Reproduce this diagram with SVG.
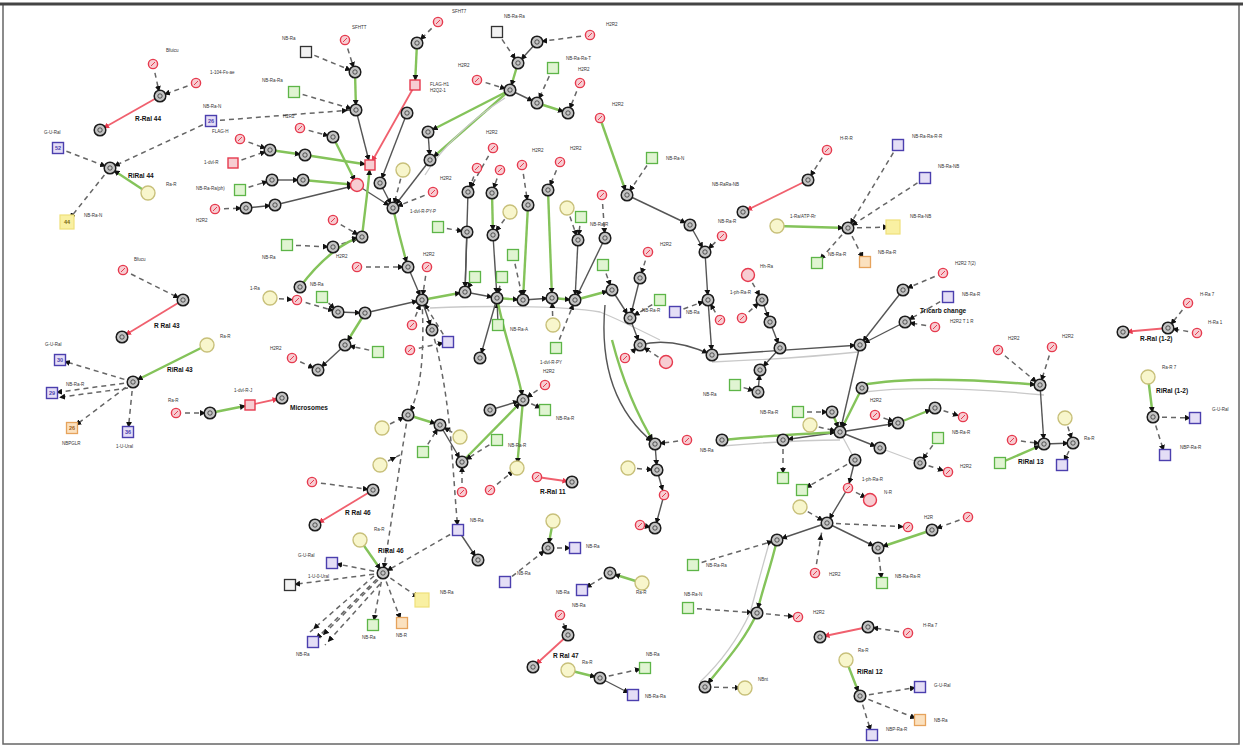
<svg xmlns="http://www.w3.org/2000/svg" xmlns:xlink="http://www.w3.org/1999/xlink" width="1243" height="746" viewBox="0 0 1243 746">
<style>
.gn{fill:#c4c4c4;stroke:#1c1c1c;stroke-width:1.5}
.gi{fill:none;stroke:#333;stroke-width:0.8}
.rn{fill:#f7cdd2;stroke:#e63a4e;stroke-width:1.4}
.qn{fill:#e0f4d2;stroke:#5db548;stroke-width:1.3}
.bn{fill:#e4def6;stroke:#4b3fae;stroke-width:1.4}
.on{fill:#fbe1bf;stroke:#e6a35c;stroke-width:1.3}
.yn{fill:#f8f6cc;stroke:#c8c07a;stroke-width:1.4}
.ys{fill:#f9f0a2;stroke:#efe07a;stroke-width:1.2}
.kn{fill:#f2f2f2;stroke:#333;stroke-width:1.3}
.t{font-family:"Liberation Sans",Arial,sans-serif;font-size:4.5px;fill:#333}
.tb{font-family:"Liberation Sans",Arial,sans-serif;font-size:6.5px;font-weight:bold;fill:#111}
.tq{font-family:"Liberation Sans",Arial,sans-serif;font-size:5.5px;font-weight:bold;text-anchor:middle}
.e{stroke:#555;stroke-width:1.4;fill:none;marker-end:url(#a)}
.eg{stroke:#84c35a;stroke-width:2.4;fill:none;marker-end:url(#a)}
.el{stroke:#c9c9c9;stroke-width:1.3;fill:none}
.er{stroke:#f0606e;stroke-width:1.8;fill:none;marker-end:url(#ar)}
.ed{stroke:#666;stroke-width:1.5;stroke-dasharray:5 4;fill:none;marker-end:url(#a)}
</style>
<defs>
<marker id="a" viewBox="0 0 10 10" refX="17" refY="5" markerWidth="6" markerHeight="6" markerUnits="userSpaceOnUse" orient="auto"><path d="M0,0L10,5L0,10z" fill="#111"/></marker>
<marker id="ar" viewBox="0 0 10 10" refX="16" refY="5" markerWidth="6" markerHeight="6" markerUnits="userSpaceOnUse" orient="auto"><path d="M0,0L10,5L0,10z" fill="#e63a4e"/></marker>
<g id="G"><circle r="5.8" class="gn"/><circle r="2.2" class="gi"/></g>
<g id="R"><circle r="4.6" class="rn"/><path d="M-2,2L2,-2" stroke="#e63a4e" stroke-width="1"/></g>
<g id="P"><circle r="6.5" class="rn"/></g>
<g id="RS"><rect x="-5" y="-5" width="10" height="10" class="rn"/></g>
<g id="Q"><rect x="-5.5" y="-5.5" width="11" height="11" class="qn"/></g>
<g id="B"><rect x="-5.5" y="-5.5" width="11" height="11" class="bn"/></g>
<g id="O"><rect x="-5.5" y="-5.5" width="11" height="11" class="on"/></g>
<g id="Y"><circle r="7" class="yn"/></g>
<g id="YS"><rect x="-7" y="-7" width="14" height="14" class="ys"/></g>
<g id="K"><rect x="-5.5" y="-5.5" width="11" height="11" class="kn"/></g>
</defs>
<rect width="1243" height="746" fill="#fff"/>
<rect x="3" y="4" width="1236" height="740" fill="none" stroke="#666" stroke-width="1.5"/>
<line x1="0" y1="4" x2="1243" y2="4" stroke="#444" stroke-width="3"/>

<g id="connectors">
<line class="ed" x1="153" y1="64" x2="160" y2="96"/>
<line class="ed" x1="196" y1="83" x2="160" y2="96"/>
<line class="er" x1="160" y1="96" x2="100" y2="130"/>
<line class="ed" x1="211" y1="121" x2="110" y2="168"/>
<line class="ed" x1="58" y1="148" x2="110" y2="168"/>
<line class="eg" x1="148" y1="193" x2="110" y2="168"/>
<line class="ed" x1="110" y1="168" x2="67" y2="222"/>
<line class="ed" x1="211" y1="121" x2="352" y2="110"/>
<line class="ed" x1="123" y1="270" x2="183" y2="300"/>
<line class="er" x1="183" y1="300" x2="122" y2="337"/>
<line class="eg" x1="207" y1="345" x2="133" y2="382"/>
<line class="ed" x1="133" y1="382" x2="60" y2="360"/>
<line class="ed" x1="133" y1="382" x2="52" y2="393"/>
<line class="ed" x1="128" y1="388" x2="55" y2="398"/>
<line class="ed" x1="133" y1="382" x2="72" y2="428"/>
<line class="ed" x1="133" y1="382" x2="128" y2="432"/>
<line class="ed" x1="176" y1="413" x2="210" y2="413"/>
<line class="eg" x1="210" y1="413" x2="250" y2="405"/>
<line class="er" x1="250" y1="405" x2="282" y2="398"/>

<line class="ed" x1="345" y1="40" x2="355" y2="72"/>
<line class="ed" x1="306" y1="52" x2="355" y2="72"/>
<line class="ed" x1="294" y1="92" x2="356" y2="110"/>
<line class="eg" x1="355" y1="72" x2="356" y2="110"/>
<line class="e" x1="356" y1="110" x2="370" y2="165"/>
<line class="ed" x1="300" y1="128" x2="333" y2="137"/>
<line class="eg" x1="333" y1="137" x2="357" y2="185"/>
<line class="ed" x1="240" y1="139" x2="270" y2="150"/>
<line class="ed" x1="233" y1="163" x2="270" y2="150"/>
<line class="eg" x1="270" y1="150" x2="305" y2="155"/>
<line class="eg" x1="305" y1="155" x2="370" y2="165"/>
<line class="ed" x1="240" y1="190" x2="272" y2="180"/>
<line class="e" x1="272" y1="180" x2="303" y2="180"/>
<line class="eg" x1="303" y1="180" x2="357" y2="185"/>
<line class="ed" x1="215" y1="209" x2="246" y2="208"/>
<line class="e" x1="246" y1="208" x2="275" y2="205"/>
<line class="e" x1="275" y1="205" x2="357" y2="185"/>
<line class="e" x1="357" y1="185" x2="393" y2="208"/>
<line class="e" x1="380" y1="183" x2="393" y2="208"/>
<line class="e" x1="430" y1="160" x2="393" y2="208"/>
<line class="ed" x1="403" y1="170" x2="393" y2="208"/>
<path class="eg" d="M393,208 Q400,240 408,267"/>
<path class="eg" d="M362,237 C365,210 368,190 370,165"/>
<line class="ed" x1="333" y1="220" x2="362" y2="237"/>
<line class="ed" x1="333" y1="247" x2="362" y2="237"/>
<line class="ed" x1="287" y1="245" x2="333" y2="247"/>
<line class="ed" x1="357" y1="267" x2="408" y2="267"/>
<line class="ed" x1="427" y1="267" x2="422" y2="300"/>
<line class="ed" x1="433" y1="192" x2="393" y2="208"/>
<line class="eg" x1="417" y1="43" x2="415" y2="85"/>
<line class="ed" x1="438" y1="22" x2="417" y2="43"/>
<line class="er" x1="415" y1="85" x2="370" y2="165"/>
<line class="e" x1="407" y1="113" x2="380" y2="183"/>
<line class="eg" x1="510" y1="90" x2="428" y2="132"/>
<line class="eg" x1="510" y1="90" x2="430" y2="160"/>
<path class="el" d="M505,98 C470,120 440,150 425,175"/>
<line class="e" x1="428" y1="132" x2="430" y2="160"/>

<line class="ed" x1="497" y1="32" x2="518" y2="63"/>
<line class="e" x1="537" y1="42" x2="518" y2="63"/>
<line class="ed" x1="590" y1="35" x2="537" y2="42"/>
<line class="eg" x1="518" y1="63" x2="510" y2="90"/>
<line class="ed" x1="477" y1="80" x2="510" y2="90"/>
<line class="e" x1="510" y1="90" x2="537" y2="103"/>
<line class="ed" x1="553" y1="68" x2="537" y2="103"/>
<line class="eg" x1="537" y1="103" x2="568" y2="113"/>
<line class="ed" x1="580" y1="83" x2="568" y2="113"/>
<line class="eg" x1="600" y1="118" x2="627" y2="195"/>

<line class="ed" x1="493" y1="148" x2="468" y2="192"/>
<line class="ed" x1="477" y1="168" x2="468" y2="192"/>
<line class="ed" x1="500" y1="170" x2="492" y2="193"/>
<line class="e" x1="468" y1="192" x2="465" y2="292"/>
<line class="eg" x1="492" y1="193" x2="493" y2="235"/>
<line class="e" x1="493" y1="235" x2="497" y2="298"/>
<line class="ed" x1="510" y1="212" x2="493" y2="235"/>
<line class="ed" x1="522" y1="165" x2="528" y2="205"/>
<line class="ed" x1="560" y1="162" x2="548" y2="190"/>
<line class="eg" x1="548" y1="190" x2="552" y2="298"/>
<line class="eg" x1="528" y1="205" x2="523" y2="300"/>
<line class="ed" x1="567" y1="208" x2="578" y2="240"/>
<line class="ed" x1="581" y1="217" x2="578" y2="240"/>
<line class="e" x1="578" y1="240" x2="575" y2="300"/>
<line class="ed" x1="602" y1="195" x2="605" y2="238"/>
<line class="e" x1="605" y1="238" x2="575" y2="300"/>
<line class="ed" x1="438" y1="227" x2="467" y2="232"/>
<line class="e" x1="467" y1="232" x2="465" y2="292"/>
<line class="ed" x1="513" y1="255" x2="523" y2="300"/>
<line class="ed" x1="475" y1="277" x2="465" y2="292"/>
<line class="ed" x1="502" y1="277" x2="497" y2="298"/>

<line class="e" x1="408" y1="267" x2="422" y2="300"/>
<line class="eg" x1="422" y1="300" x2="465" y2="292"/>
<line class="e" x1="465" y1="292" x2="497" y2="298"/>
<line class="eg" x1="497" y1="298" x2="523" y2="300"/>
<line class="e" x1="523" y1="300" x2="552" y2="298"/>
<line class="eg" x1="552" y1="298" x2="575" y2="300"/>
<line class="eg" x1="575" y1="300" x2="612" y2="290"/>
<path class="el" d="M430,308 C480,306 560,305 600,312 C620,320 640,330 660,340"/>
<line class="ed" x1="412" y1="325" x2="422" y2="300"/>
<line class="ed" x1="448" y1="342" x2="422" y2="300"/>
<line class="e" x1="422" y1="300" x2="432" y2="330"/>
<line class="e" x1="498" y1="325" x2="497" y2="298"/>
<line class="e" x1="497" y1="298" x2="480" y2="358"/>
<line class="ed" x1="553" y1="325" x2="552" y2="298"/>
<line class="ed" x1="556" y1="348" x2="575" y2="300"/>

<line class="ed" x1="270" y1="298" x2="297" y2="300"/>
<line class="ed" x1="297" y1="300" x2="338" y2="312"/>
<line class="ed" x1="322" y1="297" x2="338" y2="312"/>
<line class="e" x1="338" y1="312" x2="365" y2="313"/>
<line class="e" x1="365" y1="313" x2="422" y2="300"/>
<line class="eg" x1="365" y1="313" x2="345" y2="345"/>
<line class="e" x1="345" y1="345" x2="318" y2="370"/>
<line class="ed" x1="292" y1="358" x2="318" y2="370"/>
<line class="ed" x1="378" y1="352" x2="345" y2="345"/>
<path class="eg" d="M300,287 C320,260 345,240 362,237"/>
<line class="ed" x1="410" y1="350" x2="448" y2="342"/>

<path class="ed" d="M422,300 C425,360 420,395 408,415"/>
<path class="ed" d="M408,415 C400,460 392,520 383,573"/>
<path class="ed" d="M432,330 C452,400 452,470 458,530"/>
<line class="ed" x1="382" y1="428" x2="408" y2="415"/>
<line class="ed" x1="380" y1="465" x2="400" y2="455"/>
<line class="eg" x1="408" y1="415" x2="440" y2="425"/>
<line class="e" x1="440" y1="425" x2="462" y2="462"/>
<line class="ed" x1="460" y1="437" x2="440" y2="425"/>
<line class="ed" x1="423" y1="452" x2="440" y2="425"/>
<line class="eg" x1="462" y1="462" x2="523" y2="400"/>
<line class="e" x1="490" y1="410" x2="523" y2="400"/>
<line class="ed" x1="497" y1="440" x2="462" y2="462"/>
<line class="ed" x1="523" y1="400" x2="545" y2="410"/>
<line class="ed" x1="545" y1="385" x2="523" y2="400"/>
<line class="eg" x1="523" y1="400" x2="517" y2="468"/>
<path class="eg" d="M497,298 C505,340 518,370 523,400"/>
<line class="ed" x1="490" y1="490" x2="517" y2="468"/>
<line class="ed" x1="462" y1="492" x2="462" y2="462"/>
<line class="e" x1="458" y1="530" x2="478" y2="560"/>
<line class="ed" x1="458" y1="530" x2="383" y2="573"/>

<line class="e" x1="627" y1="195" x2="690" y2="225"/>
<line class="e" x1="690" y1="225" x2="705" y2="252"/>
<line class="e" x1="705" y1="252" x2="708" y2="300"/>
<line class="e" x1="708" y1="300" x2="712" y2="355"/>
<line class="ed" x1="722" y1="236" x2="705" y2="252"/>
<line class="ed" x1="652" y1="158" x2="627" y2="195"/>
<line class="er" x1="808" y1="180" x2="743" y2="212"/>
<line class="ed" x1="827" y1="150" x2="808" y2="180"/>
<line class="eg" x1="777" y1="226" x2="848" y2="228"/>
<line class="ed" x1="898" y1="145" x2="848" y2="228"/>
<line class="ed" x1="925" y1="178" x2="848" y2="228"/>
<line class="ed" x1="848" y1="228" x2="893" y2="227"/>
<line class="ed" x1="848" y1="228" x2="817" y2="263"/>
<line class="ed" x1="848" y1="228" x2="865" y2="262"/>
<line class="ed" x1="748" y1="275" x2="762" y2="300"/>
<line class="ed" x1="603" y1="265" x2="612" y2="290"/>
<line class="e" x1="612" y1="290" x2="630" y2="318"/>
<line class="ed" x1="648" y1="252" x2="640" y2="278"/>
<line class="e" x1="640" y1="278" x2="630" y2="318"/>
<line class="ed" x1="660" y1="300" x2="630" y2="318"/>
<line class="ed" x1="675" y1="312" x2="708" y2="300"/>
<line class="e" x1="630" y1="318" x2="640" y2="345"/>
<line class="ed" x1="625" y1="358" x2="640" y2="345"/>
<path class="e" d="M640,345 C665,338 690,345 712,355"/>
<line class="ed" x1="666" y1="362" x2="640" y2="345"/>
<line class="e" x1="712" y1="355" x2="860" y2="345"/>
<path class="el" d="M712,362 C760,360 820,356 858,352"/>
<line class="ed" x1="720" y1="320" x2="708" y2="300"/>
<line class="ed" x1="742" y1="318" x2="762" y2="300"/>
<line class="e" x1="762" y1="300" x2="770" y2="322"/>
<line class="e" x1="770" y1="322" x2="780" y2="348"/>
<line class="e" x1="780" y1="348" x2="760" y2="370"/>
<line class="ed" x1="735" y1="385" x2="758" y2="392"/>
<line class="e" x1="758" y1="392" x2="760" y2="370"/>
<line class="e" x1="860" y1="345" x2="840" y2="432"/>
<line class="e" x1="903" y1="290" x2="860" y2="345"/>
<line class="ed" x1="943" y1="273" x2="903" y2="290"/>
<line class="ed" x1="948" y1="297" x2="905" y2="322"/>
<line class="ed" x1="935" y1="327" x2="905" y2="322"/>
<line class="e" x1="905" y1="322" x2="860" y2="345"/>
<line class="eg" x1="862" y1="388" x2="840" y2="432"/>
<path class="eg" d="M862,385 C900,378 960,378 1040,385"/>
<path class="el" d="M864,392 C910,386 970,388 1044,395"/>
<line class="e" x1="840" y1="432" x2="898" y2="423"/>
<line class="eg" x1="898" y1="423" x2="935" y2="408"/>
<line class="ed" x1="935" y1="408" x2="963" y2="417"/>
<line class="ed" x1="875" y1="415" x2="898" y2="423"/>
<line class="e" x1="840" y1="432" x2="880" y2="448"/>
<line class="el" x1="880" y1="448" x2="920" y2="463"/>
<line class="ed" x1="920" y1="463" x2="948" y2="472"/>
<line class="ed" x1="938" y1="438" x2="920" y2="463"/>
<line class="e" x1="840" y1="432" x2="783" y2="440"/>
<line class="ed" x1="783" y1="440" x2="783" y2="478"/>
<line class="eg" x1="832" y1="412" x2="840" y2="432"/>
<line class="ed" x1="798" y1="412" x2="832" y2="412"/>
<line class="ed" x1="810" y1="425" x2="840" y2="432"/>
<line class="el" x1="840" y1="432" x2="855" y2="460"/>
<line class="e" x1="855" y1="460" x2="848" y2="488"/>
<line class="ed" x1="848" y1="488" x2="870" y2="500"/>
<line class="ed" x1="855" y1="460" x2="802" y2="490"/>
<path class="eg" d="M722,440 C760,436 800,434 840,432"/>
<path class="el" d="M722,446 C770,442 810,440 840,440"/>
<line class="e" x1="848" y1="488" x2="827" y2="523"/>
<line class="ed" x1="800" y1="507" x2="827" y2="523"/>
<line class="ed" x1="827" y1="523" x2="908" y2="527"/>
<line class="e" x1="827" y1="523" x2="777" y2="540"/>
<path class="eg" d="M777,540 C770,570 762,590 757,613"/>
<path class="el" d="M770,540 C760,575 755,595 750,613"/>
<line class="e" x1="827" y1="523" x2="878" y2="548"/>
<line class="ed" x1="878" y1="548" x2="882" y2="583"/>
<line class="eg" x1="932" y1="530" x2="878" y2="548"/>
<line class="ed" x1="968" y1="517" x2="932" y2="530"/>
<line class="ed" x1="693" y1="565" x2="777" y2="540"/>
<line class="ed" x1="688" y1="608" x2="757" y2="613"/>
<line class="ed" x1="757" y1="613" x2="798" y2="617"/>
<path class="eg" d="M757,613 C745,640 725,662 705,687"/>
<path class="el" d="M750,613 C735,645 718,665 700,682"/>
<line class="ed" x1="705" y1="687" x2="745" y2="688"/>
<line class="er" x1="868" y1="627" x2="820" y2="637"/>
<line class="ed" x1="908" y1="633" x2="868" y2="627"/>
<line class="eg" x1="846" y1="660" x2="860" y2="696"/>
<line class="ed" x1="860" y1="696" x2="920" y2="687"/>
<line class="ed" x1="860" y1="696" x2="920" y2="720"/>
<line class="ed" x1="860" y1="696" x2="872" y2="735"/>
<line class="ed" x1="815" y1="573" x2="822" y2="530"/>

<line class="ed" x1="687" y1="440" x2="655" y2="444"/>
<line class="e" x1="655" y1="444" x2="657" y2="470"/>
<line class="ed" x1="628" y1="468" x2="657" y2="470"/>
<line class="e" x1="657" y1="470" x2="664" y2="495"/>
<line class="ed" x1="640" y1="525" x2="655" y2="528"/>
<line class="e" x1="664" y1="495" x2="655" y2="528"/>
<path class="e" d="M605,305 C600,360 612,410 655,444"/>
<path class="eg" d="M612,340 C625,390 640,420 655,444"/>

<line class="er" x1="537" y1="477" x2="572" y2="482"/>
<line class="eg" x1="553" y1="521" x2="548" y2="548"/>
<line class="ed" x1="548" y1="548" x2="575" y2="548"/>
<line class="ed" x1="505" y1="582" x2="548" y2="548"/>
<line class="eg" x1="642" y1="583" x2="610" y2="573"/>
<line class="ed" x1="610" y1="573" x2="582" y2="590"/>
<line class="ed" x1="560" y1="615" x2="568" y2="635"/>
<line class="er" x1="568" y1="635" x2="533" y2="667"/>
<line class="eg" x1="568" y1="670" x2="600" y2="678"/>
<line class="ed" x1="600" y1="678" x2="645" y2="668"/>
<line class="e" x1="600" y1="678" x2="633" y2="695"/>

<line class="ed" x1="312" y1="482" x2="373" y2="490"/>
<line class="er" x1="373" y1="490" x2="315" y2="525"/>
<line class="eg" x1="360" y1="540" x2="383" y2="573"/>
<line class="ed" x1="383" y1="573" x2="332" y2="563"/>
<line class="ed" x1="383" y1="573" x2="290" y2="585"/>
<line class="ed" x1="383" y1="573" x2="313" y2="642"/>
<line class="ed" x1="378" y1="580" x2="320" y2="638"/>
<line class="ed" x1="374" y1="576" x2="310" y2="632"/>
<line class="ed" x1="380" y1="584" x2="325" y2="645"/>
<line class="ed" x1="383" y1="573" x2="373" y2="625"/>
<line class="ed" x1="383" y1="573" x2="402" y2="623"/>
<line class="ed" x1="383" y1="573" x2="422" y2="600"/>

<line class="ed" x1="998" y1="350" x2="1040" y2="385"/>
<line class="ed" x1="1052" y1="347" x2="1040" y2="385"/>
<line class="e" x1="1040" y1="385" x2="1044" y2="444"/>
<line class="eg" x1="1000" y1="463" x2="1044" y2="444"/>
<line class="ed" x1="1012" y1="440" x2="1044" y2="444"/>
<line class="e" x1="1044" y1="444" x2="1073" y2="443"/>
<line class="ed" x1="1065" y1="418" x2="1073" y2="443"/>
<line class="ed" x1="1073" y1="443" x2="1062" y2="465"/>
<line class="ed" x1="1188" y1="303" x2="1168" y2="328"/>
<line class="ed" x1="1197" y1="333" x2="1168" y2="328"/>
<line class="er" x1="1168" y1="328" x2="1123" y2="332"/>
<line class="eg" x1="1148" y1="377" x2="1153" y2="417"/>
<line class="ed" x1="1153" y1="417" x2="1195" y2="418"/>
<line class="ed" x1="1153" y1="417" x2="1165" y2="455"/>
</g>

<g id="n1"><use href="#R" x="153" y="64"/><text class="t" x="166" y="52">Bfuicu</text></g>
<g id="n2"><use href="#R" x="196" y="83"/><text class="t" x="210" y="74">1-104-Fs-ae</text></g>
<g id="n3"><use href="#G" x="160" y="96"/></g>
<g id="n4"><use href="#G" x="100" y="130"/><text class="tb" x="135" y="121">R-Ral 44</text></g>
<g id="n5"><use href="#B" x="211" y="121"/><text class="tq" x="211" y="123" fill="#4b3fae">26</text><text class="t" x="203" y="108">NB-Ra-N</text></g>
<g id="n6"><use href="#B" x="58" y="148"/><text class="tq" x="58" y="150" fill="#4b3fae">52</text><text class="t" x="44" y="134">G-U-Ral</text></g>
<g id="n7"><use href="#G" x="110" y="168"/><text class="tb" x="128" y="178">RiRal 44</text></g>
<g id="n8"><use href="#Y" x="148" y="193"/><text class="t" x="166" y="186">Ra-R</text></g>
<g id="n9"><use href="#YS" x="67" y="222"/><text class="tq" x="67" y="224" fill="#7a6a10">44</text><text class="t" x="84" y="217">NB-Ra-N</text></g>
<g id="n10"><use href="#R" x="123" y="270"/><text class="t" x="134" y="261">Bfucu</text></g>
<g id="n11"><use href="#G" x="183" y="300"/></g>
<g id="n12"><use href="#G" x="122" y="337"/><text class="tb" x="154" y="328">R Ral 43</text></g>
<g id="n13"><use href="#Y" x="207" y="345"/><text class="t" x="220" y="338">Ra-R</text></g>
<g id="n14"><use href="#G" x="133" y="382"/><text class="tb" x="167" y="372">RiRal 43</text></g>
<g id="n15"><use href="#B" x="60" y="360"/><text class="tq" x="60" y="362" fill="#4b3fae">30</text><text class="t" x="45" y="346">G-U-Ral</text></g>
<g id="n16"><use href="#B" x="52" y="393"/><text class="tq" x="52" y="395" fill="#4b3fae">29</text><text class="t" x="66" y="386">NB-Ra-R</text></g>
<g id="n17"><use href="#O" x="72" y="428"/><text class="tq" x="72" y="430" fill="#a0601c">26</text><text class="t" x="62" y="445">NBPGLR</text></g>
<g id="n18"><use href="#B" x="128" y="432"/><text class="tq" x="128" y="434" fill="#4b3fae">36</text><text class="t" x="116" y="448">1-U-Ural</text></g>
<g id="n19"><use href="#R" x="176" y="413"/><text class="t" x="168" y="402">Ra-R</text></g>
<g id="n20"><use href="#G" x="210" y="413"/></g>
<g id="n21"><use href="#RS" x="250" y="405"/><text class="t" x="234" y="392">1-dvl-R-J</text></g>
<g id="n22"><use href="#G" x="282" y="398"/><text class="tb" x="290" y="410">Microsomes</text></g>

<g id="n23"><use href="#K" x="306" y="52"/><text class="t" x="282" y="40">NB-Ra</text></g>
<g id="n24"><use href="#R" x="345" y="40"/><text class="t" x="352" y="29">SFHTT</text></g>
<g id="n25"><use href="#G" x="355" y="72"/></g>
<g id="n26"><use href="#Q" x="294" y="92"/><text class="t" x="262" y="82">NB-Ra-Ra</text></g>
<g id="n27"><use href="#G" x="356" y="110"/></g>
<g id="n28"><use href="#R" x="300" y="128"/><text class="t" x="283" y="118">H2R2</text></g>
<g id="n29"><use href="#R" x="240" y="139"/><text class="t" x="212" y="133">FLAG-H</text></g>
<g id="n30"><use href="#RS" x="233" y="163"/><text class="t" x="204" y="164">1-dvl-R</text></g>
<g id="n31"><use href="#G" x="270" y="150"/></g>
<g id="n32"><use href="#G" x="305" y="155"/></g>
<g id="n33"><use href="#Q" x="240" y="190"/><text class="t" x="196" y="190">NB-Ra-Ra(ph)</text></g>
<g id="n34"><use href="#G" x="272" y="180"/></g>
<g id="n35"><use href="#G" x="303" y="180"/></g>
<g id="n36"><use href="#R" x="215" y="209"/><text class="t" x="196" y="222">H2R2</text></g>
<g id="n37"><use href="#G" x="246" y="208"/></g>
<g id="n38"><use href="#G" x="275" y="205"/></g>
<g id="n39"><use href="#G" x="333" y="137"/></g>
<g id="n40"><use href="#RS" x="370" y="165"/></g>
<g id="n41"><use href="#P" x="357" y="185"/></g>
<g id="n42"><use href="#G" x="380" y="183"/></g>
<g id="n43"><use href="#G" x="393" y="208"/><text class="t" x="410" y="213">1-dvl-R-PY-P</text></g>
<g id="n44"><use href="#Y" x="403" y="170"/></g>
<g id="n45"><use href="#G" x="430" y="160"/></g>
<g id="n46"><use href="#G" x="428" y="132"/></g>
<g id="n47"><use href="#G" x="407" y="113"/></g>
<g id="n48"><use href="#RS" x="415" y="85"/><text class="t" x="430" y="86">FLAG-H1</text><text class="t" x="430" y="92">H2Q2-1</text></g>
<g id="n49"><use href="#G" x="417" y="43"/></g>
<g id="n50"><use href="#R" x="438" y="22"/><text class="t" x="452" y="13">SFHT7</text></g>
<g id="n51"><use href="#G" x="362" y="237"/></g>
<g id="n52"><use href="#G" x="333" y="247"/></g>
<g id="n53"><use href="#R" x="333" y="220"/></g>
<g id="n54"><use href="#Q" x="287" y="245"/><text class="t" x="262" y="259">NB-Ra</text></g>
<g id="n55"><use href="#R" x="357" y="267"/><text class="t" x="336" y="258">H2R2</text></g>
<g id="n56"><use href="#G" x="408" y="267"/></g>
<g id="n57"><use href="#R" x="427" y="267"/><text class="t" x="423" y="256">H2R2</text></g>
<g id="n58"><use href="#R" x="433" y="192"/><text class="t" x="440" y="180">H2R2</text></g>

<g id="n60"><use href="#K" x="497" y="32"/><text class="t" x="504" y="18">NB-Ra-Ra</text></g>
<g id="n61"><use href="#G" x="537" y="42"/></g>
<g id="n62"><use href="#R" x="590" y="35"/><text class="t" x="606" y="26">H2R2</text></g>
<g id="n63"><use href="#G" x="518" y="63"/></g>
<g id="n64"><use href="#G" x="510" y="90"/></g>
<g id="n65"><use href="#Q" x="553" y="68"/><text class="t" x="566" y="60">NB-Ra-Ra-T</text></g>
<g id="n66"><use href="#R" x="477" y="80"/><text class="t" x="458" y="67">H2R2</text></g>
<g id="n67"><use href="#G" x="537" y="103"/></g>
<g id="n68"><use href="#G" x="568" y="113"/></g>
<g id="n69"><use href="#R" x="580" y="83"/><text class="t" x="578" y="71">H2R2</text></g>
<g id="n70"><use href="#R" x="600" y="118"/><text class="t" x="612" y="106">H2R2</text></g>
<g id="n71"><use href="#G" x="627" y="195"/></g>
<g id="n72"><use href="#Q" x="652" y="158"/><text class="t" x="666" y="160">NB-Ra-N</text></g>
<g id="n73"><use href="#R" x="493" y="148"/><text class="t" x="486" y="134">H2R2</text></g>
<g id="n74"><use href="#R" x="477" y="168"/></g>
<g id="n75"><use href="#R" x="500" y="170"/></g>
<g id="n76"><use href="#G" x="468" y="192"/></g>
<g id="n77"><use href="#G" x="492" y="193"/></g>
<g id="n78"><use href="#Y" x="510" y="212"/></g>
<g id="n79"><use href="#R" x="522" y="165"/><text class="t" x="532" y="152">H2R2</text></g>
<g id="n80"><use href="#R" x="560" y="162"/><text class="t" x="570" y="150">H2R2</text></g>
<g id="n81"><use href="#G" x="548" y="190"/></g>
<g id="n82"><use href="#G" x="528" y="205"/></g>
<g id="n83"><use href="#Y" x="567" y="208"/></g>
<g id="n84"><use href="#Q" x="581" y="217"/><text class="t" x="590" y="226">NB-Ra-R</text></g>
<g id="n85"><use href="#G" x="578" y="240"/></g>
<g id="n86"><use href="#R" x="602" y="195"/></g>
<g id="n87"><use href="#G" x="605" y="238"/></g>
<g id="n88"><use href="#Q" x="438" y="227"/></g>
<g id="n89"><use href="#G" x="467" y="232"/></g>
<g id="n90"><use href="#G" x="493" y="235"/></g>
<g id="n91"><use href="#Q" x="513" y="255"/></g>
<g id="n92"><use href="#Q" x="475" y="277"/></g>
<g id="n93"><use href="#Q" x="502" y="277"/></g>
<g id="n94"><use href="#G" x="422" y="300"/></g>
<g id="n95"><use href="#G" x="465" y="292"/></g>
<g id="n96"><use href="#G" x="497" y="298"/></g>
<g id="n97"><use href="#G" x="523" y="300"/></g>
<g id="n98"><use href="#G" x="552" y="298"/></g>
<g id="n99"><use href="#G" x="575" y="300"/></g>
<g id="n100"><use href="#R" x="412" y="325"/></g>
<g id="n101"><use href="#R" x="410" y="350"/></g>
<g id="n102"><use href="#B" x="448" y="342"/></g>
<g id="n103"><use href="#G" x="432" y="330"/></g>
<g id="n104"><use href="#Q" x="498" y="325"/><text class="t" x="510" y="331">NB-Ra-A</text></g>
<g id="n105"><use href="#G" x="480" y="358"/></g>
<g id="n106"><use href="#Y" x="553" y="325"/></g>
<g id="n107"><use href="#Q" x="556" y="348"/><text class="t" x="540" y="364">1-dvl-R-PY</text></g>
<g id="n109"><use href="#G" x="365" y="313"/></g>
<g id="n110"><use href="#Q" x="322" y="297"/><text class="t" x="310" y="286">NB-Ra</text></g>
<g id="n111"><use href="#G" x="338" y="312"/></g>
<g id="n112"><use href="#Y" x="270" y="298"/><text class="t" x="250" y="290">1-Ra</text></g>
<g id="n113"><use href="#R" x="297" y="300"/></g>
<g id="n114"><use href="#G" x="300" y="287"/></g>
<g id="n115"><use href="#G" x="345" y="345"/></g>
<g id="n116"><use href="#Q" x="378" y="352"/></g>
<g id="n117"><use href="#G" x="318" y="370"/></g>
<g id="n118"><use href="#R" x="292" y="358"/><text class="t" x="270" y="350">H2R2</text></g>

<g id="n121"><use href="#G" x="408" y="415"/></g>
<g id="n122"><use href="#Y" x="382" y="428"/></g>
<g id="n123"><use href="#Y" x="380" y="465"/></g>
<g id="n124"><use href="#Q" x="423" y="452"/></g>
<g id="n125"><use href="#G" x="440" y="425"/></g>
<g id="n126"><use href="#Y" x="460" y="437"/></g>
<g id="n127"><use href="#G" x="462" y="462"/></g>
<g id="n128"><use href="#Q" x="497" y="440"/><text class="t" x="508" y="447">NB-Ra-R</text></g>
<g id="n129"><use href="#G" x="490" y="410"/></g>
<g id="n130"><use href="#G" x="523" y="400"/></g>
<g id="n131"><use href="#Q" x="545" y="410"/><text class="t" x="556" y="420">NB-Ra-R</text></g>
<g id="n132"><use href="#R" x="545" y="385"/><text class="t" x="543" y="373">H2R2</text></g>
<g id="n133"><use href="#Y" x="517" y="468"/></g>
<g id="n134"><use href="#R" x="490" y="490"/></g>
<g id="n135"><use href="#R" x="462" y="492"/></g>
<g id="n137"><use href="#G" x="478" y="560"/></g>
<g id="n138"><use href="#B" x="458" y="530"/><text class="t" x="470" y="522">NB-Ra</text></g>

<g id="n141"><use href="#Q" x="603" y="265"/></g>
<g id="n142"><use href="#G" x="612" y="290"/></g>
<g id="n143"><use href="#G" x="640" y="278"/></g>
<g id="n144"><use href="#R" x="648" y="252"/><text class="t" x="660" y="246">H2R2</text></g>
<g id="n145"><use href="#Q" x="660" y="300"/><text class="t" x="642" y="312">NB-Ra-R</text></g>
<g id="n146"><use href="#B" x="675" y="312"/><text class="t" x="686" y="314">NB-Ra</text></g>
<g id="n147"><use href="#G" x="630" y="318"/></g>
<g id="n148"><use href="#G" x="640" y="345"/></g>
<g id="n149"><use href="#R" x="625" y="358"/></g>
<g id="n150"><use href="#P" x="666" y="362"/></g>
<g id="n151"><use href="#R" x="827" y="150"/><text class="t" x="840" y="140">H-R-R</text></g>
<g id="n151b"><use href="#G" x="808" y="180"/></g>
<g id="n151c"><use href="#G" x="743" y="212"/><text class="t" x="712" y="186">NB-RaRa-NB</text></g>
<g id="n151d"><use href="#Y" x="777" y="226"/><text class="t" x="790" y="218">1-Ra/ATP-Rr</text></g>
<g id="n151e"><use href="#G" x="848" y="228"/></g>
<g id="n151f"><use href="#B" x="898" y="145"/><text class="t" x="912" y="138">NB-Ra-Ra-R-R</text></g>
<g id="n151g"><use href="#B" x="925" y="178"/><text class="t" x="938" y="168">NB-Ra-NB</text></g>
<g id="n151h"><use href="#YS" x="893" y="227"/><text class="t" x="910" y="218">NB-Ra-NB</text></g>
<g id="n151i"><use href="#Q" x="817" y="263"/><text class="t" x="828" y="256">NB-Ra-R</text></g>
<g id="n151j"><use href="#O" x="865" y="262"/><text class="t" x="878" y="254">NB-Ra-R</text></g>
<g id="n151k"><text class="t" x="760" y="268">Hh-Ra</text></g>
<g id="n152"><use href="#G" x="690" y="225"/></g>
<g id="n153"><use href="#G" x="705" y="252"/></g>
<g id="n154"><use href="#R" x="722" y="236"/><text class="t" x="718" y="223">NB-Ra-R</text></g>
<g id="n155"><use href="#G" x="708" y="300"/></g>
<g id="n156"><use href="#G" x="712" y="355"/></g>
<g id="n157"><use href="#R" x="720" y="320"/></g>
<g id="n158"><use href="#R" x="742" y="318"/></g>
<g id="n159"><use href="#G" x="762" y="300"/></g>
<g id="n160"><use href="#G" x="770" y="322"/></g>
<g id="n161"><use href="#P" x="748" y="275"/><text class="t" x="730" y="294">1-ph-Ra-R</text></g>
<g id="n162"><use href="#G" x="780" y="348"/></g>
<g id="n163"><use href="#G" x="760" y="370"/></g>
<g id="n164"><use href="#Q" x="735" y="385"/><text class="t" x="703" y="396">NB-Ra</text></g>
<g id="n165"><use href="#G" x="758" y="392"/></g>
<g id="n167"><use href="#Q" x="798" y="412"/><text class="t" x="760" y="414">NB-Ra-R</text></g>
<g id="n169"><use href="#G" x="862" y="388"/></g>
<g id="n170"><use href="#G" x="860" y="345"/></g>
<g id="n171"><use href="#G" x="903" y="290"/></g>
<g id="n172"><use href="#R" x="943" y="273"/><text class="t" x="955" y="265">H2R2 7(2)</text></g>
<g id="n173"><use href="#B" x="948" y="297"/><text class="t" x="962" y="296">NB-Ra-R</text></g>
<g id="n174"><use href="#R" x="935" y="327"/><text class="tb" x="920" y="313">Tricarb change</text><text class="t" x="950" y="323">H2R2 T 1 R</text></g>
<g id="n175"><use href="#G" x="905" y="322"/></g>
<g id="n177"><use href="#R" x="963" y="417"/></g>
<g id="n178"><use href="#G" x="935" y="408"/></g>
<g id="n179"><use href="#G" x="898" y="423"/></g>
<g id="n180"><use href="#R" x="875" y="415"/><text class="t" x="870" y="402">H2R2</text></g>
<g id="n181"><use href="#Q" x="938" y="438"/><text class="t" x="952" y="434">NB-Ra-R</text></g>
<g id="n182"><use href="#G" x="880" y="448"/></g>
<g id="n183"><use href="#G" x="920" y="463"/></g>
<g id="n184"><use href="#R" x="948" y="472"/><text class="t" x="960" y="468">H2R2</text></g>
<g id="n185"><use href="#G" x="855" y="460"/></g>
<g id="n186"><use href="#R" x="848" y="488"/><text class="t" x="862" y="481">1-ph-Ra-R</text></g>
<g id="n187"><use href="#P" x="870" y="500"/><text class="t" x="884" y="494">N-R</text></g>
<g id="n188"><use href="#Q" x="802" y="490"/></g>
<g id="n189"><use href="#Q" x="783" y="478"/></g>
<g id="n190"><use href="#G" x="783" y="440"/></g>
<g id="n191"><use href="#Y" x="810" y="425"/></g>
<g id="n192"><use href="#G" x="832" y="412"/></g>
<g id="n193"><use href="#G" x="840" y="432"/></g>
<g id="n194"><use href="#G" x="827" y="523"/></g>
<g id="n195"><use href="#Y" x="800" y="507"/></g>
<g id="n196"><use href="#R" x="908" y="527"/><text class="t" x="924" y="519">H2R</text></g>
<g id="n197"><use href="#G" x="777" y="540"/></g>
<g id="n198"><use href="#G" x="878" y="548"/></g>
<g id="n199"><use href="#G" x="932" y="530"/></g>
<g id="n199b"><use href="#R" x="968" y="517"/></g>
<g id="n200"><use href="#Q" x="693" y="565"/><text class="t" x="706" y="567">NB-Ra-Ra</text></g>
<g id="n201"><use href="#R" x="815" y="573"/><text class="t" x="829" y="576">H2R2</text></g>
<g id="n202"><use href="#Q" x="882" y="583"/><text class="t" x="895" y="578">NB-Ra-Ra-R</text></g>
<g id="n203"><use href="#Q" x="688" y="608"/><text class="t" x="684" y="596">NB-Ra-N</text></g>
<g id="n204"><use href="#G" x="757" y="613"/></g>
<g id="n205"><use href="#R" x="798" y="617"/><text class="t" x="813" y="614">H2R2</text></g>
<g id="n206"><use href="#G" x="868" y="627"/></g>
<g id="n207"><use href="#R" x="908" y="633"/><text class="t" x="923" y="627">H-Ra 7</text></g>
<g id="n208"><use href="#G" x="820" y="637"/></g>
<g id="n209"><use href="#Y" x="846" y="660"/><text class="t" x="858" y="652">Ra-R</text><text class="tb" x="857" y="674">RiRal 12</text></g>
<g id="n210"><use href="#G" x="860" y="696"/></g>
<g id="n211"><use href="#B" x="920" y="687"/><text class="t" x="934" y="687">G-U-Ral</text></g>
<g id="n212"><use href="#O" x="920" y="720"/><text class="t" x="934" y="722">NB-Ra</text></g>
<g id="n213"><use href="#B" x="872" y="735"/><text class="t" x="886" y="731">NBP-Ra-R</text></g>
<g id="n214"><use href="#G" x="705" y="687"/></g>
<g id="n215"><use href="#Y" x="745" y="688"/><text class="t" x="758" y="681">NBnt</text></g>

<g id="n216"><use href="#R" x="687" y="440"/></g>
<g id="n217"><use href="#G" x="655" y="444"/></g>
<g id="n218"><use href="#Y" x="628" y="468"/></g>
<g id="n219"><use href="#G" x="657" y="470"/></g>
<g id="n220"><use href="#R" x="664" y="495"/></g>
<g id="n221"><use href="#R" x="640" y="525"/></g>
<g id="n222"><use href="#G" x="655" y="528"/></g>
<g id="n223"><use href="#G" x="722" y="440"/><text class="t" x="700" y="452">NB-Ra</text></g>

<g id="n227"><use href="#R" x="537" y="477"/></g>
<g id="n228"><use href="#G" x="572" y="482"/><text class="tb" x="540" y="494">R-Ral 11</text></g>
<g id="n229"><use href="#Y" x="553" y="521"/></g>
<g id="n230"><use href="#G" x="548" y="548"/></g>
<g id="n230b"><use href="#B" x="575" y="548"/><text class="t" x="586" y="548">NB-Ra</text></g>
<g id="n231"><use href="#B" x="505" y="582"/><text class="t" x="517" y="575">NB-Ra</text></g>
<g id="n232"><use href="#G" x="610" y="573"/></g>
<g id="n233"><use href="#Y" x="642" y="583"/><text class="t" x="636" y="594">Ra-R</text></g>
<g id="n234"><use href="#B" x="582" y="590"/><text class="t" x="556" y="594">NB-Ra</text><text class="t" x="572" y="607">NB-Ra</text></g>
<g id="n235"><use href="#R" x="560" y="615"/></g>
<g id="n236"><use href="#G" x="568" y="635"/></g>
<g id="n237"><use href="#G" x="533" y="667"/><text class="tb" x="553" y="658">R Ral 47</text></g>
<g id="n238"><use href="#Y" x="568" y="670"/><text class="t" x="582" y="664">Ra-R</text></g>
<g id="n239"><use href="#G" x="600" y="678"/></g>
<g id="n240"><use href="#Q" x="645" y="668"/><text class="t" x="646" y="656">NB-Ra</text></g>
<g id="n241"><use href="#B" x="633" y="695"/><text class="t" x="645" y="698">NB-Ra-Ra</text></g>

<g id="n243"><use href="#R" x="998" y="350"/><text class="t" x="1008" y="340">H2R2</text></g>
<g id="n244"><use href="#R" x="1052" y="347"/><text class="t" x="1062" y="338">H2R2</text></g>
<g id="n245"><use href="#G" x="1040" y="385"/></g>
<g id="n247"><use href="#G" x="1044" y="444"/></g>
<g id="n248"><use href="#R" x="1012" y="440"/></g>
<g id="n249"><use href="#Y" x="1065" y="418"/></g>
<g id="n250"><use href="#G" x="1073" y="443"/><text class="t" x="1084" y="440">Ra-R</text></g>
<g id="n251"><use href="#B" x="1062" y="465"/></g>
<g id="n252"><use href="#Q" x="1000" y="463"/><text class="tb" x="1018" y="464">RiRal 13</text></g>

<g id="n254"><use href="#R" x="1188" y="303"/><text class="t" x="1200" y="296">H-Ra 7</text></g>
<g id="n255"><use href="#R" x="1197" y="333"/><text class="t" x="1208" y="324">H-Ra 1</text></g>
<g id="n256"><use href="#G" x="1168" y="328"/></g>
<g id="n257"><use href="#G" x="1123" y="332"/><text class="tb" x="1140" y="341">R-Ral (1-2)</text></g>
<g id="n258"><use href="#Y" x="1148" y="377"/><text class="t" x="1162" y="369">Ra-R 7</text></g>
<g id="n259"><use href="#G" x="1153" y="417"/><text class="tb" x="1156" y="393">RiRal (1-2)</text></g>
<g id="n260"><use href="#B" x="1195" y="418"/><text class="t" x="1212" y="411">G-U-Ral</text></g>
<g id="n261"><use href="#B" x="1165" y="455"/><text class="t" x="1180" y="449">NBP-Ra-R</text></g>

<g id="n262"><use href="#R" x="312" y="482"/></g>
<g id="n263"><use href="#G" x="373" y="490"/></g>
<g id="n264"><use href="#G" x="315" y="525"/><text class="tb" x="345" y="515">R Ral 46</text></g>
<g id="n265"><use href="#Y" x="360" y="540"/><text class="t" x="374" y="531">Ra-R</text></g>
<g id="n266"><use href="#G" x="383" y="573"/><text class="tb" x="378" y="553">RiRal 46</text></g>
<g id="n267"><use href="#B" x="332" y="563"/><text class="t" x="298" y="557">G-U-Ral</text></g>
<g id="n268"><use href="#K" x="290" y="585"/><text class="t" x="308" y="578">1-U-0-Ural</text></g>
<g id="n269"><use href="#B" x="313" y="642"/><text class="t" x="296" y="656">NB-Ra</text></g>
<g id="n270"><use href="#Q" x="373" y="625"/><text class="t" x="362" y="639">NB-Ra</text></g>
<g id="n271"><use href="#O" x="402" y="623"/><text class="t" x="396" y="637">NB-R</text></g>
<g id="n272"><use href="#YS" x="422" y="600"/><text class="t" x="440" y="594">NB-Ra</text></g>
</svg>
